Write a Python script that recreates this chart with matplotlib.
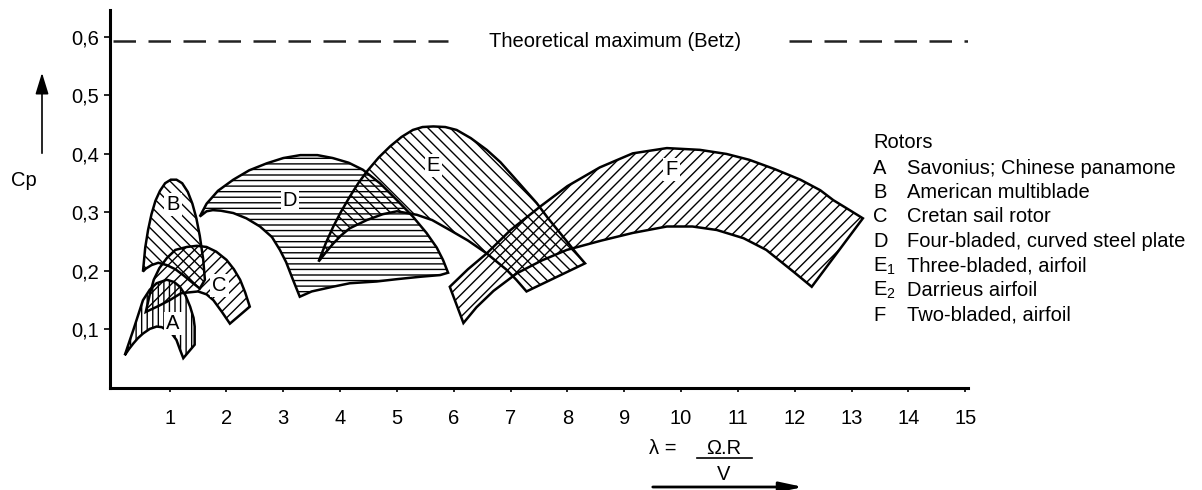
import numpy as np
import matplotlib
matplotlib.use('Agg')
from matplotlib import pyplot as plt
from matplotlib.ticker import FuncFormatter

plt.rcParams['font.family'] = ['Liberation Sans', 'DejaVu Sans']
plt.rcParams['hatch.linewidth'] = 1.0

# Enveloppes Cp(lambda) des differents rotors : bord superieur puis bord inferieur (de droite a gauche)
A_up_lam = [0.21, 0.30, 0.36, 0.45, 0.53, 0.65, 0.77, 0.95, 1.08, 1.18, 1.28, 1.36, 1.42, 1.44, 1.44]
A_up_cp = [0.056, 0.082, 0.099, 0.126, 0.150, 0.168, 0.179, 0.185, 0.181, 0.173, 0.158, 0.139, 0.120, 0.105, 0.074]
A_lo_lam = [1.24, 1.18, 1.12, 1.03, 0.95, 0.86, 0.77, 0.65, 0.53, 0.44, 0.36, 0.28]
A_lo_cp = [0.051, 0.066, 0.082, 0.094, 0.099, 0.104, 0.105, 0.101, 0.093, 0.085, 0.076, 0.066]

B_up_lam = [0.53, 0.57, 0.62, 0.68, 0.75, 0.83, 0.92, 1.02, 1.12, 1.22, 1.32, 1.40, 1.47, 1.53, 1.59, 1.62]
B_up_cp = [0.199, 0.240, 0.270, 0.297, 0.320, 0.337, 0.350, 0.356, 0.356, 0.350, 0.335, 0.315, 0.290, 0.260, 0.220, 0.185]
B_lo_lam = [1.53, 1.40, 1.25, 1.10, 0.95, 0.80, 0.68, 0.58]
B_lo_cp = [0.170, 0.180, 0.192, 0.203, 0.210, 0.214, 0.210, 0.204]

C_up_lam = [0.58, 0.65, 0.72, 0.82, 0.95, 1.10, 1.30, 1.48, 1.65, 1.82, 2.00, 2.13, 2.24, 2.33, 2.41]
C_up_cp = [0.130, 0.160, 0.185, 0.205, 0.222, 0.236, 0.241, 0.243, 0.241, 0.233, 0.219, 0.203, 0.185, 0.163, 0.139]
C_lo_lam = [2.06, 1.92, 1.77, 1.65, 1.50, 1.20, 1.00, 0.80]
C_lo_cp = [0.110, 0.130, 0.150, 0.160, 0.165, 0.162, 0.150, 0.140]

D_up_lam = [1.53, 1.65, 1.85, 2.12, 2.40, 2.71, 3.00, 3.30, 3.60, 3.87, 4.15, 4.40, 4.70, 5.00, 5.28, 5.52, 5.70, 5.81, 5.90]
D_up_cp = [0.293, 0.315, 0.337, 0.356, 0.372, 0.384, 0.393, 0.398, 0.398, 0.393, 0.385, 0.373, 0.350, 0.321, 0.293, 0.265, 0.240, 0.219, 0.197]
D_lo_lam = [5.76, 5.40, 5.00, 4.64, 4.17, 3.87, 3.50, 3.29, 3.17, 3.05, 2.94, 2.80, 2.59, 2.35, 2.12, 1.90, 1.76, 1.65]
D_lo_cp = [0.193, 0.190, 0.186, 0.182, 0.179, 0.173, 0.165, 0.156, 0.185, 0.215, 0.236, 0.258, 0.276, 0.290, 0.299, 0.303, 0.304, 0.302]

E_up_lam = [3.62, 3.75, 3.88, 4.02, 4.17, 4.32, 4.47, 4.68, 4.88, 5.08, 5.28, 5.45, 5.64, 5.85, 6.05,
            6.30, 6.58, 6.82, 7.05, 7.25, 7.46, 7.66, 7.87, 8.02, 8.16, 8.31]
E_up_cp = [0.216, 0.248, 0.276, 0.302, 0.327, 0.350, 0.370, 0.394, 0.413, 0.429, 0.441, 0.446, 0.447, 0.446, 0.441,
           0.427, 0.407, 0.386, 0.361, 0.339, 0.316, 0.290, 0.265, 0.247, 0.230, 0.213]
E_lo_lam = [7.28, 7.10, 6.93, 6.58, 6.25, 5.93, 5.62, 5.35, 5.00, 4.75, 4.47, 4.17, 4.02, 3.88, 3.75]
E_lo_cp = [0.165, 0.185, 0.202, 0.230, 0.252, 0.270, 0.287, 0.296, 0.302, 0.297, 0.287, 0.273, 0.261, 0.247, 0.232]

F_up_lam = [5.93, 6.25, 6.58, 7.00, 7.52, 8.00, 8.57, 9.15, 9.75, 10.33, 10.80, 11.20, 11.65, 12.10, 12.45, 12.68, 12.95, 13.20]
F_up_cp = [0.173, 0.203, 0.230, 0.270, 0.310, 0.345, 0.377, 0.401, 0.410, 0.407, 0.400, 0.390, 0.374, 0.356, 0.338, 0.321, 0.305, 0.290]
F_lo_lam = [12.30, 12.00, 11.50, 11.10, 10.63, 10.20, 9.75, 9.15, 8.60, 7.99, 7.55, 7.11, 6.70, 6.40, 6.17]
F_lo_cp = [0.173, 0.197, 0.236, 0.256, 0.270, 0.276, 0.276, 0.265, 0.252, 0.236, 0.218, 0.196, 0.166, 0.138, 0.111]

rotor_ids = ['A', 'B', 'C', 'D', 'E', 'F']
label_lam = [1.06, 1.06, 1.88, 3.12, 5.64, 9.83]
label_cp = [0.110, 0.313, 0.176, 0.321, 0.381, 0.373]

legend_keys = ['A', 'B', 'C', 'D', 'E$_{\\mathregular{1}}$', 'E$_{\\mathregular{2}}$', 'F']
legend_names = ['Savonius; Chinese panamone', 'American multiblade', 'Cretan sail rotor',
                'Four-bladed, curved steel plate', 'Three-bladed, airfoil', 'Darrieus airfoil',
                'Two-bladed, airfoil']

betz = 0.593
x_ticks = list(range(1, 16))
y_ticks = [0.1, 0.2, 0.3, 0.4, 0.5, 0.6]

shapes = {
    'A': (A_up_lam, A_up_cp, A_lo_lam, A_lo_cp, '|||'),
    'B': (B_up_lam, B_up_cp, B_lo_lam, B_lo_cp, '\\\\\\'),
    'C': (C_up_lam, C_up_cp, C_lo_lam, C_lo_cp, '///'),
    'D': (D_up_lam, D_up_cp, D_lo_lam, D_lo_cp, '---'),
    'E': (E_up_lam, E_up_cp, E_lo_lam, E_lo_cp, '\\\\\\'),
    'F': (F_up_lam, F_up_cp, F_lo_lam, F_lo_cp, '///'),
}

W, H = 1202, 490
fs = 14.5
fig = plt.figure(figsize=(W / 100, H / 100), dpi=100)
ax = fig.add_axes([110 / W, 1 - 388 / H, (968 - 110) / W, (388 - 10) / H])
ax.set_xlim(-0.05, 15.05)
ax.set_ylim(0, 0.646)

for k in rotor_ids:
    ul, uc, ll, lc, hatch = shapes[k]
    ax.fill(ul + ll, uc + lc, facecolor='none', edgecolor='black', hatch=hatch, lw=1.8)

for k, lx, ly in zip(rotor_ids, label_lam, label_cp):
    ax.text(lx, ly, k, ha='center', va='center', fontsize=fs,
            bbox=dict(facecolor='white', edgecolor='none', pad=1.5))

# Limite de Betz
ax.plot([0, 5.9], [betz, betz], color='#222222', lw=1.8, dashes=(9, 5))
ax.plot([11.9, 15.05], [betz, betz], color='#222222', lw=1.8, dashes=(9, 5))
ax.text(8.84, betz, 'Theoretical maximum (Betz)', ha='center', va='center', fontsize=fs)

for s in ['top', 'right']:
    ax.spines[s].set_visible(False)
for s in ['left', 'bottom']:
    ax.spines[s].set_linewidth(2.2)
ax.set_xticks(x_ticks)
ax.set_yticks(y_ticks)
ax.yaxis.set_major_formatter(FuncFormatter(lambda v, p: f'{v:.1f}'.replace('.', ',')))
ax.tick_params(axis='x', length=3, width=1.2, pad=12, labelsize=14.5)
ax.tick_params(axis='y', length=4, width=1.2, pad=4, labelsize=14.5)

# Axe des y : Cp et fleche
fig.text(24 / W, 1 - 180 / H, 'Cp', ha='center', va='center', fontsize=fs)
fig.add_artist(plt.Annotation('', xy=(42 / W, 1 - 70 / H), xytext=(42 / W, 1 - 156 / H),
                              xycoords='figure fraction', textcoords='figure fraction',
                              arrowprops=dict(arrowstyle='-|>,head_length=1.3,head_width=0.4',
                                              color='black', lw=1.2)))

# Axe des x : lambda = Omega.R / V
fig.text(663 / W, 1 - 448 / H, 'λ =', ha='center', va='center', fontsize=fs)
fig.text(724 / W, 1 - 448 / H, 'Ω.R', ha='center', va='center', fontsize=fs)
fig.add_artist(plt.Line2D([697 / W, 752 / W], [1 - 458 / H, 1 - 458 / H], color='black', lw=1.2))
fig.text(724 / W, 1 - 474 / H, 'V', ha='center', va='center', fontsize=fs)
fig.add_artist(plt.Annotation('', xy=(806 / W, 1 - 487 / H), xytext=(650 / W, 1 - 487 / H),
                              xycoords='figure fraction', textcoords='figure fraction',
                              arrowprops=dict(arrowstyle='-|>,head_length=1.4,head_width=0.3',
                                              color='black', lw=2)))

# Legende des rotors
fig.text(873 / W, 1 - 143 / H, 'Rotors', ha='left', va='center', fontsize=fs)
for i, (key, name) in enumerate(zip(legend_keys, legend_names)):
    y = 1 - (168 + 24.5 * i) / H
    fig.text(873 / W, y, key, ha='left', va='center', fontsize=fs)
    fig.text(907 / W, y, name, ha='left', va='center', fontsize=fs)

fig.savefig('out.png', dpi=100, facecolor='white')
